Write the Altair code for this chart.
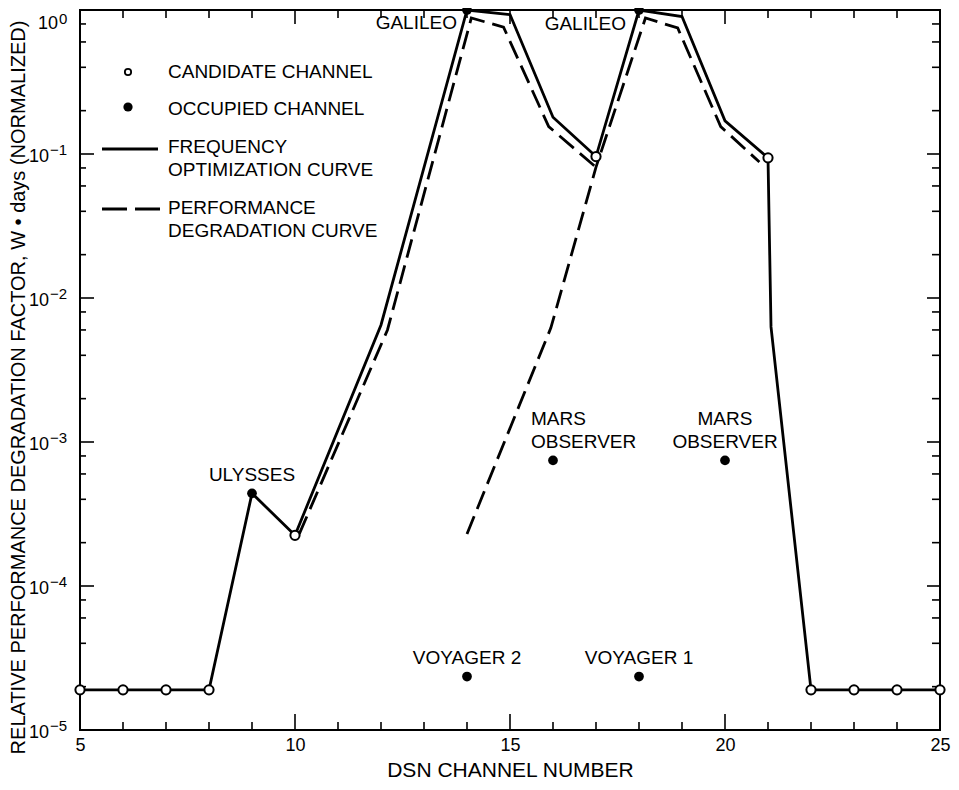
import altair as alt
import pandas as pd

FONT = "Liberation Sans"
W, H = 860, 720

# ---------------- data ----------------
# Frequency optimization curve (solid)
solid_channel = [5, 6, 7, 8, 9, 10, 12, 14, 15, 16, 17, 18, 19, 20, 21, 21.07, 22, 23, 24, 25]
solid_value = [1.9e-5, 1.9e-5, 1.9e-5, 1.9e-5, 4.4e-4, 2.25e-4, 6.5e-3, 1.0, 0.93, 0.18,
               0.096, 1.0, 0.9, 0.17, 0.094, 6.3e-3, 1.9e-5, 1.9e-5, 1.9e-5, 1.9e-5]

# Performance degradation curve (dashed), two branches
dashA_channel = [10.1, 12.15, 14.1, 14.85, 15.9, 17.0]
dashA_value = [2.3e-4, 6.0e-3, 0.88, 0.76, 0.155, 0.081]
dashB_channel = [14.0, 15.95, 17.0, 18.15, 18.9, 19.9, 20.8]
dashB_value = [2.3e-4, 6.2e-3, 0.081, 0.88, 0.75, 0.155, 0.088]

# Candidate channels (open circles)
cand_channel = [5, 6, 7, 8, 10, 17, 21, 22, 23, 24, 25]
cand_value = [1.9e-5, 1.9e-5, 1.9e-5, 1.9e-5, 2.25e-4, 0.096, 0.094, 1.9e-5, 1.9e-5, 1.9e-5, 1.9e-5]

# Occupied channels (filled circles)
occ_name = ["ULYSSES", "GALILEO", "GALILEO", "VOYAGER 2", "VOYAGER 1", "MARS OBSERVER", "MARS OBSERVER"]
occ_channel = [9, 14, 18, 14, 18, 16, 20]
occ_value = [4.4e-4, 1.0, 1.0, 2.35e-5, 2.35e-5, 7.45e-4, 7.45e-4]

# Axis ticks / labels
x_major = [5, 10, 15, 20, 25]
x_minor = [6, 7, 8, 9, 11, 12, 13, 14, 16, 17, 18, 19, 21, 22, 23, 24]
y_exp = [-5, -4, -3, -2, -1, 0]
y_minor_mant = [2, 4, 6, 8]

legend_labels = ["CANDIDATE CHANNEL", "OCCUPIED CHANNEL",
                 "FREQUENCY\nOPTIMIZATION CURVE", "PERFORMANCE\nDEGRADATION CURVE"]

x_title = "DSN CHANNEL NUMBER"
y_title = "RELATIVE PERFORMANCE DEGRADATION FACTOR, W \u2022 days (NORMALIZED)"

# ---------------- tables ----------------
df_solid = pd.DataFrame({"channel": solid_channel, "value": solid_value, "i": range(len(solid_channel))})
df_dA = pd.DataFrame({"channel": dashA_channel, "value": dashA_value, "i": range(len(dashA_channel))})
df_dB = pd.DataFrame({"channel": dashB_channel, "value": dashB_value, "i": range(len(dashB_channel))})
df_cand = pd.DataFrame({"channel": cand_channel, "value": cand_value})
df_occ = pd.DataFrame({"name": occ_name, "channel": occ_channel, "value": occ_value, "k": range(len(occ_name))})
df_xmaj = pd.DataFrame({"channel": x_major})
df_xmin = pd.DataFrame({"channel": x_minor})
df_ymaj = pd.DataFrame({"value": [10.0 ** e for e in y_exp]})
df_ymin = pd.DataFrame({"value": [m * 10.0 ** e for e in y_exp[:-1] for m in y_minor_mant]})
df_ylab = pd.DataFrame({"value": [10.0 ** e for e in y_exp], "e": y_exp,
                        "base": ["10"] * len(y_exp),
                        "sup": [str(e).replace("-", "\u2212") for e in y_exp]})
one = pd.DataFrame({"a": [0]})

xs = alt.Scale(domain=[5, 25], nice=False, zero=False)
ys = alt.Scale(type="log", domain=[1e-5, 1], nice=False)

AX = alt.Axis(values=x_major, ticks=False, domain=False, grid=False,
              labelFontSize=18, labelPadding=6, labelFlush=False,
              title=x_title, titleFontSize=21, titlePadding=5)
AY = alt.Axis(values=[10.0 ** e for e in y_exp], labels=False, ticks=False,
              domain=False, grid=False, title=y_title, titleFontSize=20,
              titleAngle=270, titleX=-62, titleY=377,
              titleAlign="center", titleBaseline="middle")


def X(f):
    return alt.X(f, scale=xs, axis=AX)


def Y(f):
    return alt.Y(f, scale=ys, axis=AY)


# ---------------- curves ----------------
solid = alt.Chart(df_solid).mark_line(color="black", strokeWidth=2.8).encode(
    x=X("channel:Q"), y=Y("value:Q"), order="i:Q")

dash_kw = dict(color="black", strokeWidth=2.8, strokeDash=[19, 8], strokeCap="butt")
dashA = alt.Chart(df_dA).mark_line(**dash_kw).encode(x=X("channel:Q"), y=Y("value:Q"), order="i:Q")
dashB = alt.Chart(df_dB).mark_line(**dash_kw).encode(x=X("channel:Q"), y=Y("value:Q"), order="i:Q")

cand = alt.Chart(df_cand).mark_circle(fill="white", stroke="black", strokeWidth=2,
                                      size=85, opacity=1).encode(x=X("channel:Q"), y=Y("value:Q"))
occ = alt.Chart(df_occ).mark_circle(color="black", size=95, opacity=1).encode(
    x=X("channel:Q"), y=Y("value:Q"))

# ---------------- annotations ----------------
txt_kw = dict(font=FONT, fontSize=19, color="black", baseline="middle")


def ann(k, **kw):
    return alt.Chart(df_occ).transform_filter(f"datum.k == {k}").mark_text(**txt_kw, **kw).encode(
        x=X("channel:Q"), y=Y("value:Q"), text="name:N")


anns = [
    ann(0, align="center", dy=-18),
    ann(1, align="right", dx=-10, dy=13),
    ann(2, align="right", dx=-13, dy=14),
    ann(3, align="center", dy=-19),
    ann(4, align="center", dy=-19),
    ann(5, align="left", dx=-22, dy=-41, lineBreak=" ", lineHeight=23),
    ann(6, align="center", dy=-41, lineBreak=" ", lineHeight=23),
]

# ---------------- inward ticks on all four sides ----------------
rk = dict(color="black", strokeWidth=1.6)
ticks = [
    alt.Chart(df_xmaj).mark_rule(**rk).encode(x=X("channel:Q"), y=alt.value(H), y2=alt.value(H - 16)),
    alt.Chart(df_xmin).mark_rule(**rk).encode(x=X("channel:Q"), y=alt.value(H), y2=alt.value(H - 8)),
    alt.Chart(df_xmaj).mark_rule(**rk).encode(x=X("channel:Q"), y=alt.value(0), y2=alt.value(14)),
    alt.Chart(df_xmin).mark_rule(**rk).encode(x=X("channel:Q"), y=alt.value(0), y2=alt.value(8)),
    alt.Chart(df_ymaj).mark_rule(**rk).encode(y=Y("value:Q"), x=alt.value(0), x2=alt.value(14)),
    alt.Chart(df_ymin).mark_rule(**rk).encode(y=Y("value:Q"), x=alt.value(0), x2=alt.value(6)),
    alt.Chart(df_ymaj).mark_rule(**rk).encode(y=Y("value:Q"), x=alt.value(W), x2=alt.value(W - 13)),
    alt.Chart(df_ymin).mark_rule(**rk).encode(y=Y("value:Q"), x=alt.value(W), x2=alt.value(W - 8)),
]

# ---------------- y tick labels 10^n ----------------
lab = [
    alt.Chart(df_ylab).transform_filter("datum.e != 0").mark_text(
        font=FONT, fontSize=18, align="right", baseline="middle", dy=3, color="black").encode(
        x=alt.value(-31), y=Y("value:Q"), text="base:N"),
    alt.Chart(df_ylab).transform_filter("datum.e != 0").mark_text(
        font=FONT, fontSize=15, align="left", baseline="middle", dy=-4, color="black").encode(
        x=alt.value(-30), y=Y("value:Q"), text="sup:N"),
    alt.Chart(df_ylab).transform_filter("datum.e == 0").mark_text(
        font=FONT, fontSize=18, align="right", baseline="middle", dy=14, color="black").encode(
        x=alt.value(-22), y=Y("value:Q"), text="base:N"),
    alt.Chart(df_ylab).transform_filter("datum.e == 0").mark_text(
        font=FONT, fontSize=15, align="left", baseline="middle", dy=9, color="black").encode(
        x=alt.value(-21), y=Y("value:Q"), text="sup:N"),
]

# ---------------- in-plot legend ----------------
leg = [
    alt.Chart(one).mark_circle(fill="white", stroke="black", strokeWidth=1.8, size=40, opacity=1).encode(
        x=alt.value(48), y=alt.value(62)),
    alt.Chart(one).mark_circle(color="black", size=85, opacity=1).encode(x=alt.value(48), y=alt.value(97)),
    alt.Chart(one).mark_rule(color="black", strokeWidth=2.8).encode(
        x=alt.value(22), x2=alt.value(78), y=alt.value(139)),
    alt.Chart(one).mark_rule(color="black", strokeWidth=2.8, strokeDash=[25, 8], strokeCap="butt").encode(
        x=alt.value(22), x2=alt.value(81), y=alt.value(199)),
]
for lbl, yy in zip(legend_labels, [62, 99, 137, 198]):
    leg.append(alt.Chart(one).mark_text(align="left", lineBreak="\n", lineHeight=23, **txt_kw).encode(
        x=alt.value(88), y=alt.value(yy), text=alt.value(lbl)))

chart = alt.layer(solid, dashA, dashB, *ticks, *lab, *leg, cand, occ, *anns).properties(
    width=W, height=H,
    padding={"left": 72, "top": 2, "right": 11, "bottom": 50},
    autosize=alt.AutoSizeParams(type="none"),
).configure_view(stroke="black", strokeWidth=2).configure_axis(
    labelFont=FONT, titleFont=FONT, labelColor="black", titleColor="black", titleFontWeight="normal"
)

chart.save("out.html", embed_options={"renderer": "svg", "actions": False})
